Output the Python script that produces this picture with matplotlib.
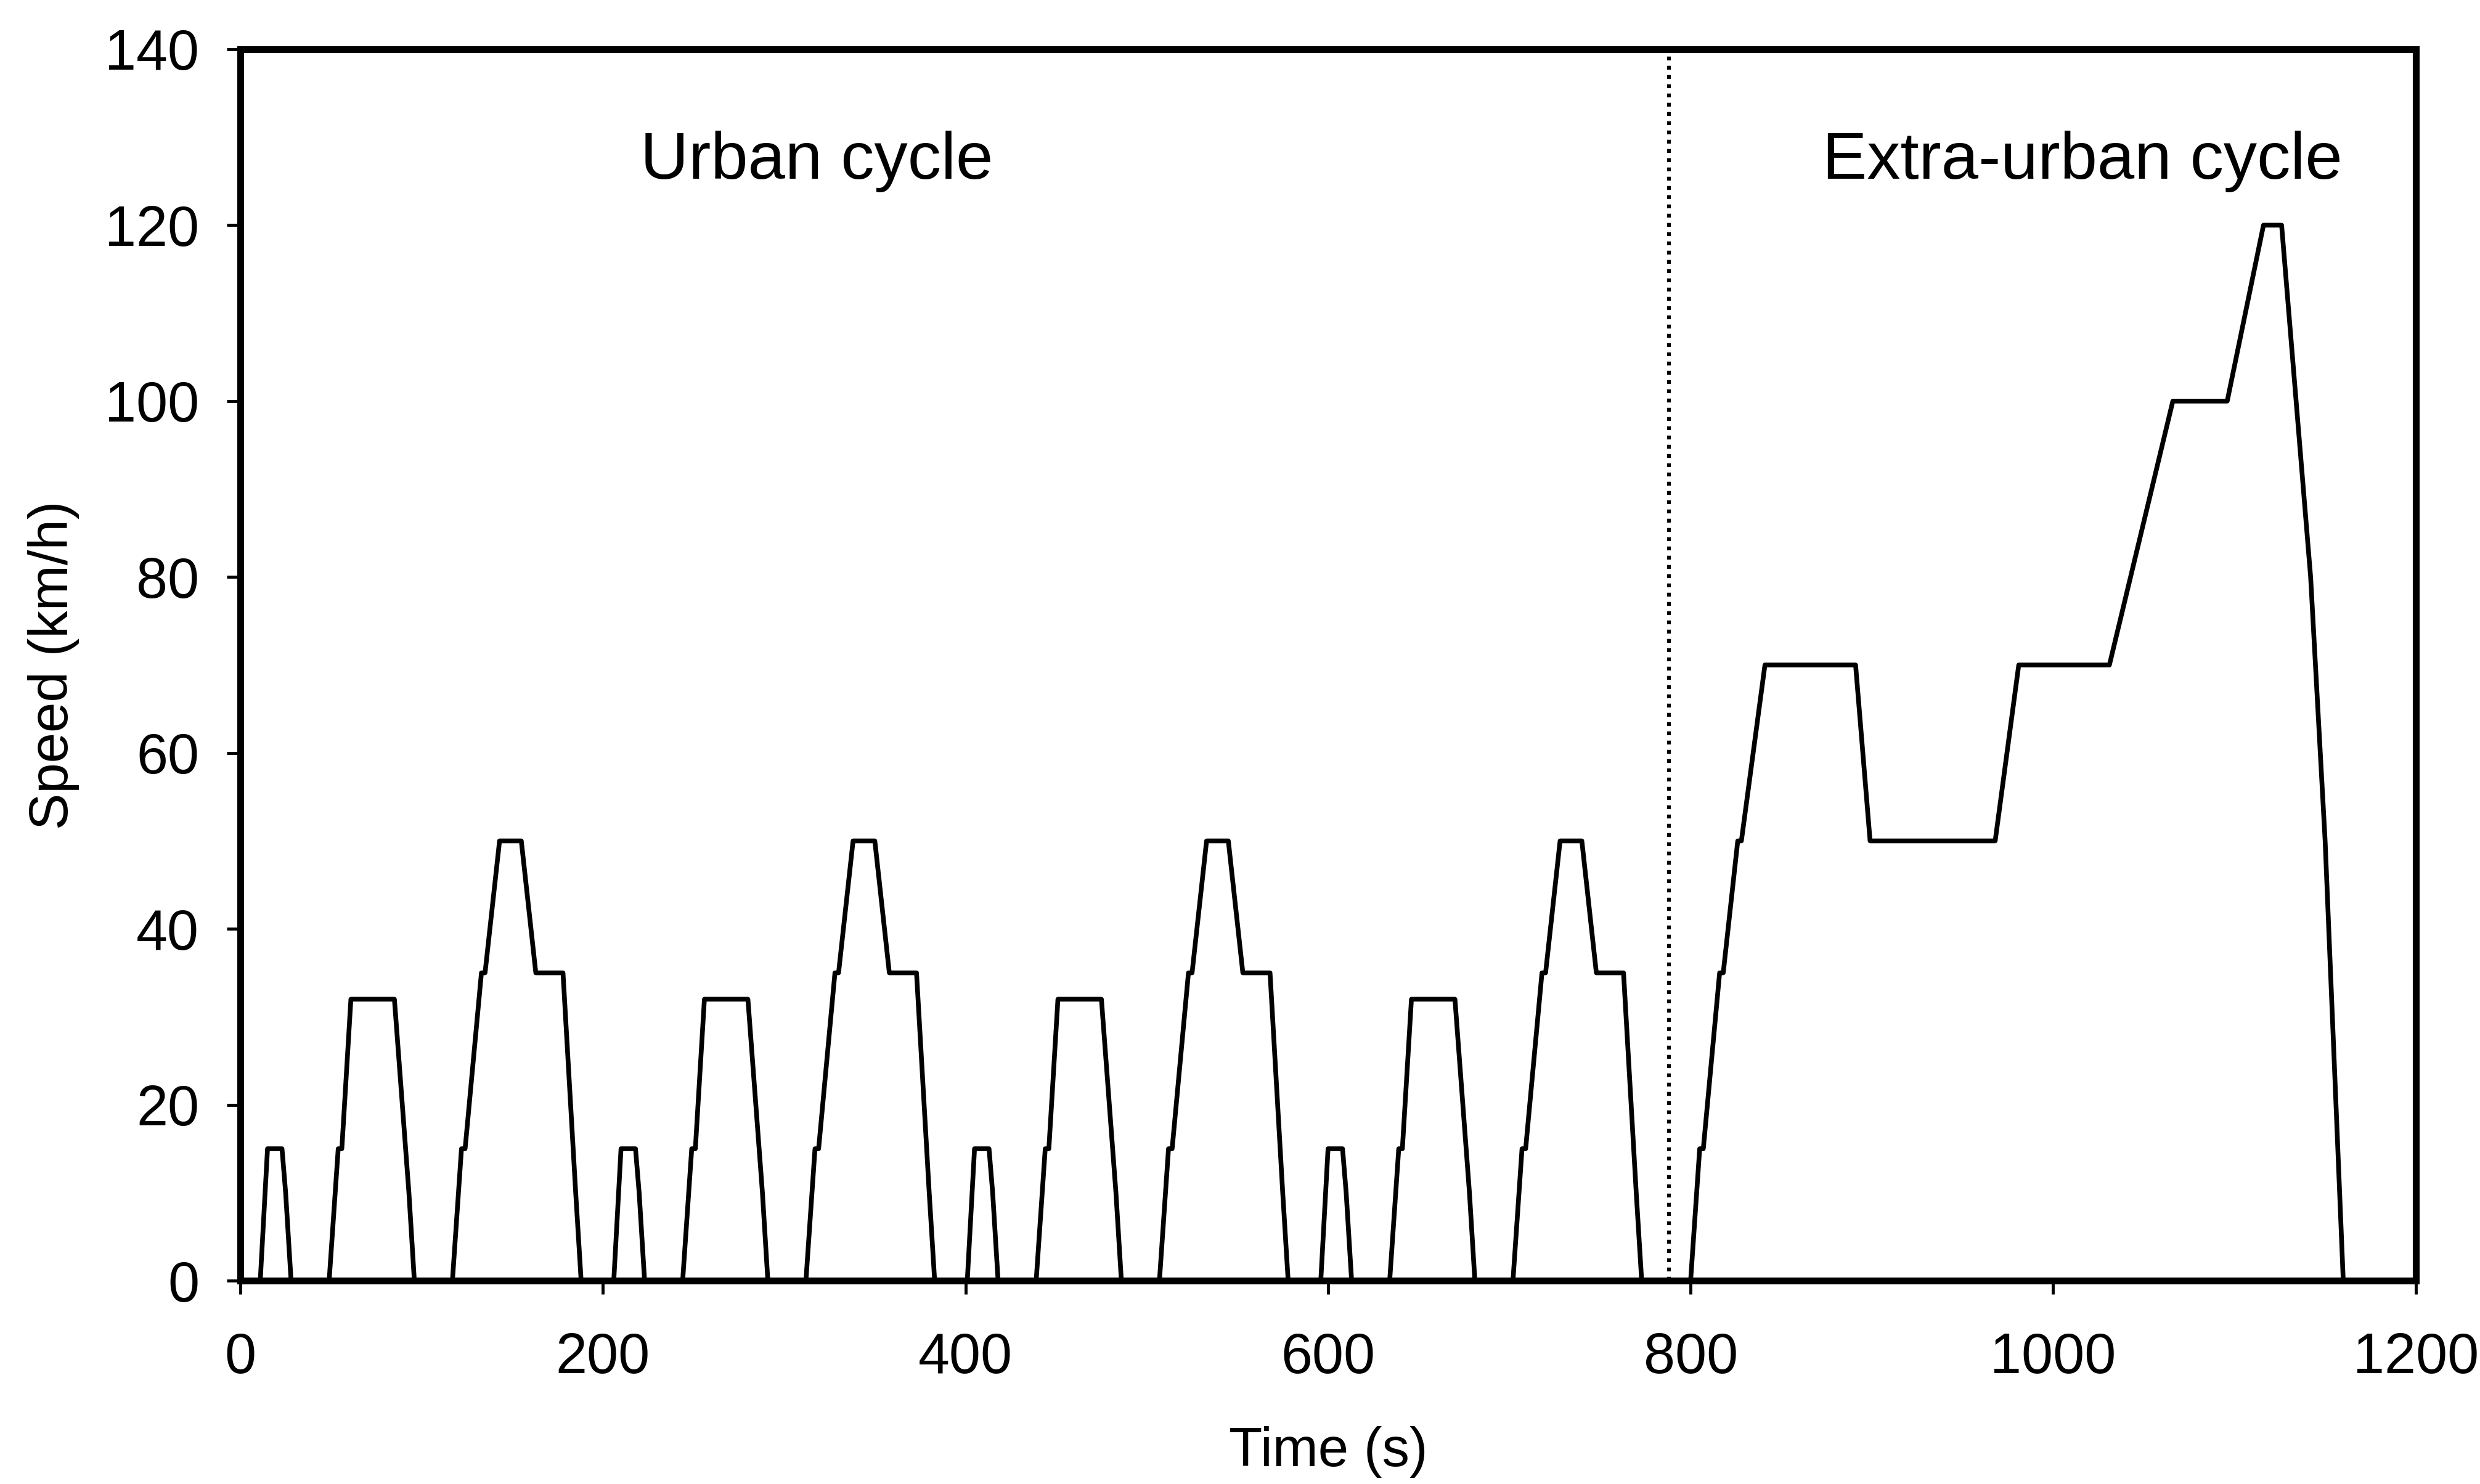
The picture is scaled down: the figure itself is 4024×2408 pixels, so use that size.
import numpy as np
import matplotlib.pyplot as plt

plt.rcParams['font.family'] = ['Liberation Sans', 'DejaVu Sans']

# urban (ECE-15) breakpoints for one 195 s repeat: time (s), speed (km/h)
ece_t = [0, 11, 15, 23, 25, 28, 49, 54, 56, 61, 85, 93, 96, 117, 122, 124,
         133, 135, 143, 155, 163, 176, 178, 185, 188, 195]
ece_v = [0, 0, 15, 15, 10, 0, 0, 15, 15, 32, 32, 10, 0, 0, 15, 15,
         35, 35, 50, 50, 35, 35, 35, 10, 0, 0]
ece_starts = [0, 195, 390, 585]

# extra-urban breakpoints
eudc_t = [780, 800, 805, 807, 816, 818, 826, 828, 841, 891, 899, 968, 981,
          1031, 1066, 1096, 1116, 1126, 1142, 1150, 1160, 1180]
eudc_v = [0, 0, 15, 15, 35, 35, 50, 50, 70, 70, 50, 50, 70,
          70, 100, 100, 120, 120, 80, 50, 0, 0]

split_time = 788
x_ticks = [0, 200, 400, 600, 800, 1000, 1200]
y_ticks = [0, 20, 40, 60, 80, 100, 120, 140]

t = np.concatenate([np.array(ece_t) + s for s in ece_starts] + [np.array(eudc_t)])
v = np.concatenate([np.array(ece_v) for s in ece_starts] + [np.array(eudc_v)])

fig = plt.figure(figsize=(40.24, 24.08), dpi=100)
ax = fig.add_axes([0.0969, 0.1370, 0.8772, 0.8298])

ax.plot(t, v, color='black', lw=5.5, solid_joinstyle='round')
ax.axvline(split_time, color='black', lw=4.5, ls=(0, (1, 1.4)))

ax.text(318, 125.3, 'Urban cycle', fontsize=78, ha='center', va='baseline')
ax.text(1016, 125.3, 'Extra-urban cycle', fontsize=78, ha='center', va='baseline')

ax.set_xlim(0, 1200)
ax.set_ylim(0, 140)
ax.set_xticks(x_ticks)
ax.set_yticks(y_ticks)
ax.tick_params(axis='both', direction='out', length=16, width=3.5,
               labelsize=66, color='black')
ax.tick_params(axis='x', pad=44)
ax.tick_params(axis='y', pad=32)

for sp in ax.spines.values():
    sp.set_linewidth(8)
    sp.set_color('black')

ax.set_xlabel('Time (s)', fontsize=64)
ax.set_ylabel('Speed (km/h)', fontsize=64)
ax.xaxis.set_label_coords(0.5, -0.118)
ax.yaxis.set_label_coords(-0.074, 0.5)

fig.savefig('out.png', dpi=100, facecolor='white')
